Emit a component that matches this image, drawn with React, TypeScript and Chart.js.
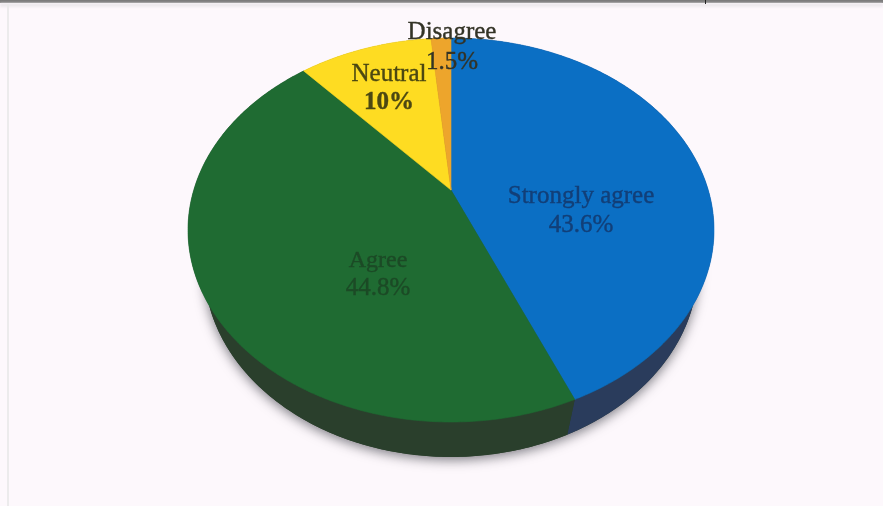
import React, { useEffect, useRef } from "react";
import { Chart, registerables } from "chart.js";

Chart.register(...registerables);

const categories = ["Strongly agree", "Agree", "Neutral", "Disagree"];
const percentages = [43.6, 44.8, 10, 1.5];
const percentLabels = ["43.6%", "44.8%", "10%", "1.5%"];
const topColors = ["#0b6fc4", "#1f6b32", "#fedc22", "#eda52c"];
const sideColors = ["#2a3c5c", "#2a3f2c", "#8a7a20", "#8a6a20"];
const textColors = ["#123f78", "#1c4a26", "#4c4812", "#333326"];

const PERSPECTIVE = -0.208;
const TOP_X_RATIO = 263 / 192;
const BOTTOM = { xRatio: 247 / 192, yRatio: 190 / 192, dy: 35 };
const LABEL_LAYOUT = [
  { x: 581, y1: 196, y2: 225, size: 25, size2: 25, weight: "normal" },
  { x: 378, y1: 261, y2: 288, size: 24, size2: 25, weight: "normal" },
  { x: 389, y1: 74, y2: 103, size: 25, size2: 25, weight: "bold" },
  { x: 452, y1: 32, y2: 62, size: 25, size2: 25, weight: "normal" },
];

function project(angle: number) {
  const x = Math.cos(angle);
  const y = Math.sin(angle);
  const d = 1 + PERSPECTIVE * y;
  return {
    x: (x * Math.sqrt(1 - PERSPECTIVE * PERSPECTIVE)) / d,
    y: (y + PERSPECTIVE) / d,
  };
}

function rimPoints(start: number, end: number) {
  const n = Math.max(4, Math.ceil((end - start) / 0.01));
  const pts = [];
  for (let i = 0; i <= n; i++) pts.push(project(start + ((end - start) * i) / n));
  return pts;
}

const perspectivePie = {
  id: "perspectivePie",
  beforeDatasetDraw(chart: any, args: any) {
    const { ctx } = chart;
    const arcs = args.meta.data;
    const cx = arcs[0].x;
    const cy = arcs[0].y;
    const r = arcs[0].outerRadius;
    const tx = (p: any) => cx + p.x * r * TOP_X_RATIO;
    const ty = (p: any) => cy + p.y * r;
    const bRy = r * BOTTOM.yRatio;
    const bCy = cy + (r - bRy) + BOTTOM.dy;
    const bx = (p: any) => cx + p.x * r * BOTTOM.xRatio;
    const by = (p: any) => bCy + p.y * bRy;

    ctx.save();
    ctx.shadowColor = "rgba(40,40,50,0.6)";
    ctx.shadowBlur = 12;
    ctx.shadowOffsetY = 3;
    ctx.fillStyle = sideColors[1];
    ctx.beginPath();
    ctx.ellipse(cx, bCy, r * BOTTOM.xRatio, bRy, 0, 0, Math.PI * 2);
    ctx.fill();
    ctx.restore();

    arcs.forEach((arc: any, i: number) => {
      const pts = rimPoints(arc.startAngle, arc.endAngle);
      ctx.fillStyle = sideColors[i];
      ctx.beginPath();
      pts.forEach((p, j) => (j ? ctx.lineTo(tx(p), ty(p)) : ctx.moveTo(tx(p), ty(p))));
      pts.slice().reverse().forEach((p) => ctx.lineTo(bx(p), by(p)));
      ctx.closePath();
      ctx.fill();
    });

    arcs.forEach((arc: any, i: number) => {
      const pts = rimPoints(arc.startAngle, arc.endAngle);
      ctx.fillStyle = topColors[i];
      ctx.strokeStyle = topColors[i];
      ctx.lineWidth = 0.6;
      ctx.beginPath();
      ctx.moveTo(cx, cy + PERSPECTIVE * r);
      pts.forEach((p) => ctx.lineTo(tx(p), ty(p)));
      ctx.closePath();
      ctx.fill();
      ctx.stroke();
    });
    return false;
  },
  afterDatasetsDraw(chart: any) {
    const { ctx } = chart;
    ctx.save();
    ctx.textAlign = "center";
    ctx.textBaseline = "middle";
    categories.forEach((name, i) => {
      const l = LABEL_LAYOUT[i];
      ctx.fillStyle = textColors[i];
      ctx.strokeStyle = textColors[i];
      ctx.lineWidth = 0.4;
      ctx.font = `normal ${l.size}px "Liberation Serif"`;
      ctx.fillText(name, l.x, l.y1);
      ctx.strokeText(name, l.x, l.y1);
      ctx.font = `${l.weight} ${l.size2}px "Liberation Serif"`;
      ctx.fillText(percentLabels[i], l.x, l.y2);
      ctx.strokeText(percentLabels[i], l.x, l.y2);
    });
    ctx.restore();
  },
};

export default function App() {
  const ref = useRef<HTMLCanvasElement>(null);
  useEffect(() => {
    const chart = new Chart(ref.current!, {
      type: "pie",
      data: {
        labels: categories,
        datasets: [{ data: percentages, backgroundColor: topColors, borderWidth: 0 }],
      },
      options: {
        animation: false,
        responsive: false,
        layout: { padding: { top: 38, bottom: 84, left: 19, right: 0 } },
        plugins: { legend: { display: false }, tooltip: { enabled: false } },
      },
      plugins: [perspectivePie],
    } as any);
    return () => chart.destroy();
  }, []);
  return (
    <div style={{ position: "fixed", left: 0, top: 0, width: 883, height: 506, background: "#fdf8fc", overflow: "hidden" }}>
      <div style={{ position: "absolute", left: 0, top: 0, width: 883, height: 3, background: "#7c7c7c" }} />
      <div style={{ position: "absolute", left: 0, top: 3, width: 883, height: 4, background: "#eeeaee", filter: "blur(1px)" }} />
      <div style={{ position: "absolute", left: 705, top: 0, width: 1, height: 4, background: "#222" }} />
      <div style={{ position: "absolute", left: 7, top: 4, width: 2, height: 502, background: "#ecebec" }} />
      <canvas ref={ref} width={883} height={506} style={{ position: "absolute", left: 0, top: 0, filter: "blur(0.6px)" }} />
    </div>
  );
}
